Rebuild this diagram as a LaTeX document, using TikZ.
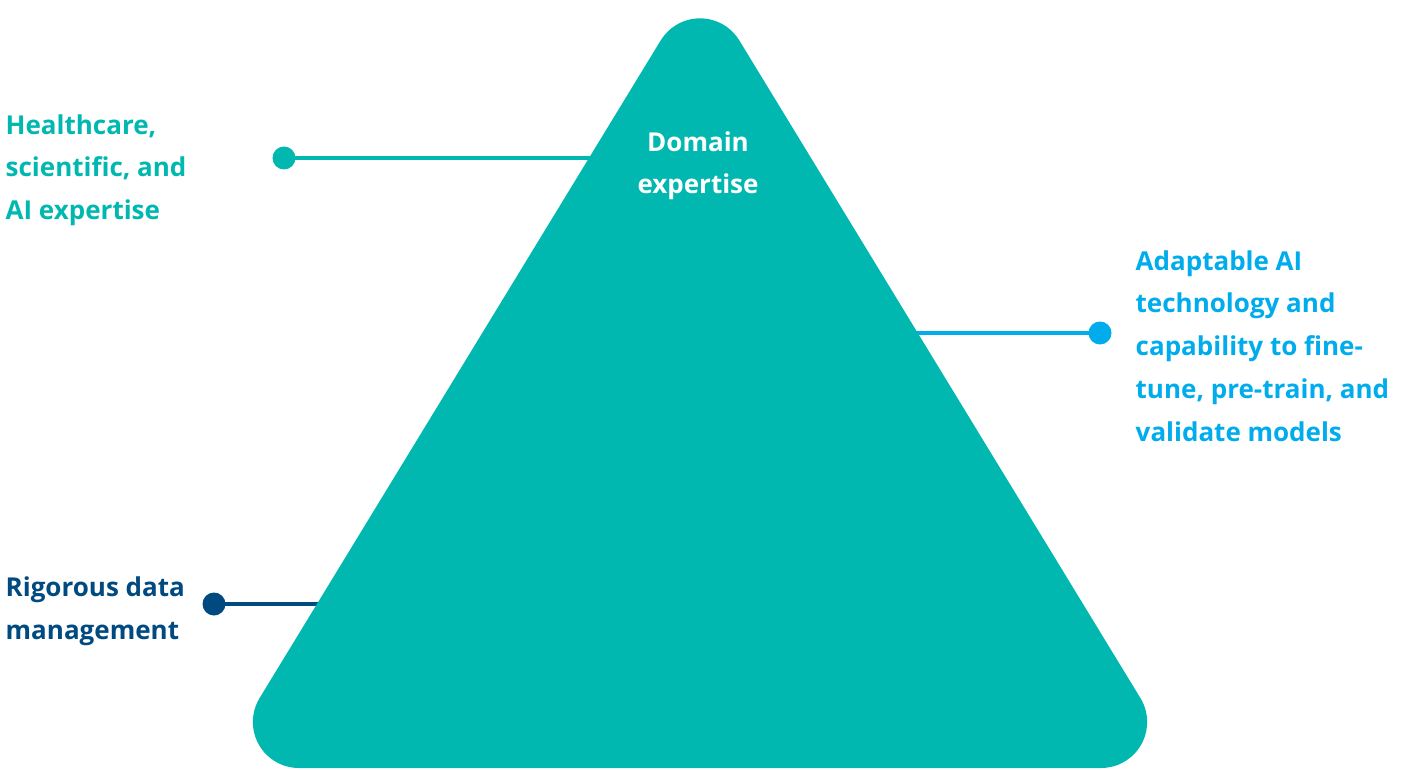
\documentclass[tikz,border=0pt]{standalone}
\usepackage{fontspec}
\setmainfont{Open Sans}
\definecolor{teal1}{RGB}{0,184,176}
\definecolor{blue1}{RGB}{0,172,236}
\definecolor{navy1}{RGB}{0,74,128}
\begin{document}
\begin{tikzpicture}[x=1pt,y=1pt,
  lbl/.style={inner sep=0pt,align=left,font=\fontsize{26}{42.7}\selectfont\bfseries},
  conn/.style={line width=4pt},
  dot/.style={circle,inner sep=0pt,minimum size=23pt}]
\useasboundingbox (0,0) rectangle (1403,-770);
% connectors (under the triangle)
\node[dot,fill=teal1] (d1) at (284,-158) {};
\coordinate (e1) at (640,-158);
\draw[conn,teal1] (d1.center) -- (e1);
\node[dot,fill=blue1] (d2) at (1100,-333) {};
\coordinate (e2) at (880,-333);
\draw[conn,blue1] (d2.center) -- (e2);
\node[dot,fill=navy1] (d3) at (214,-604) {};
\coordinate (e3) at (360,-604);
\draw[conn,navy1] (d3.center) -- (e3);
% triangle
\fill[teal1] (739.27,-40.38) arc[start angle=31.38,end angle=148.62,radius=46]
  -- (259.6,-698.05) arc[start angle=148.62,end angle=270,radius=46]
  -- (1101.13,-768) arc[start angle=270,end angle=391.38,radius=46]
  -- cycle;
% labels (base anchor = baseline of the last line)
\node[lbl,anchor=base,align=center,text=white] (t0) at (698,-194) {Domain\\expertise};
\node[lbl,anchor=base west,text=teal1] (t1) at (5.5,-219.5) {Healthcare,\\scientific, and\\AI expertise};
\node[lbl,anchor=base west,text=blue1] (t2) at (1135.5,-441) {Adaptable AI\\technology and\\capability to fine-\\tune, pre-train, and\\validate models};
\node[lbl,anchor=base west,text=navy1] (t3) at (5.5,-639) {Rigorous data\\management};
\end{tikzpicture}
\end{document}
